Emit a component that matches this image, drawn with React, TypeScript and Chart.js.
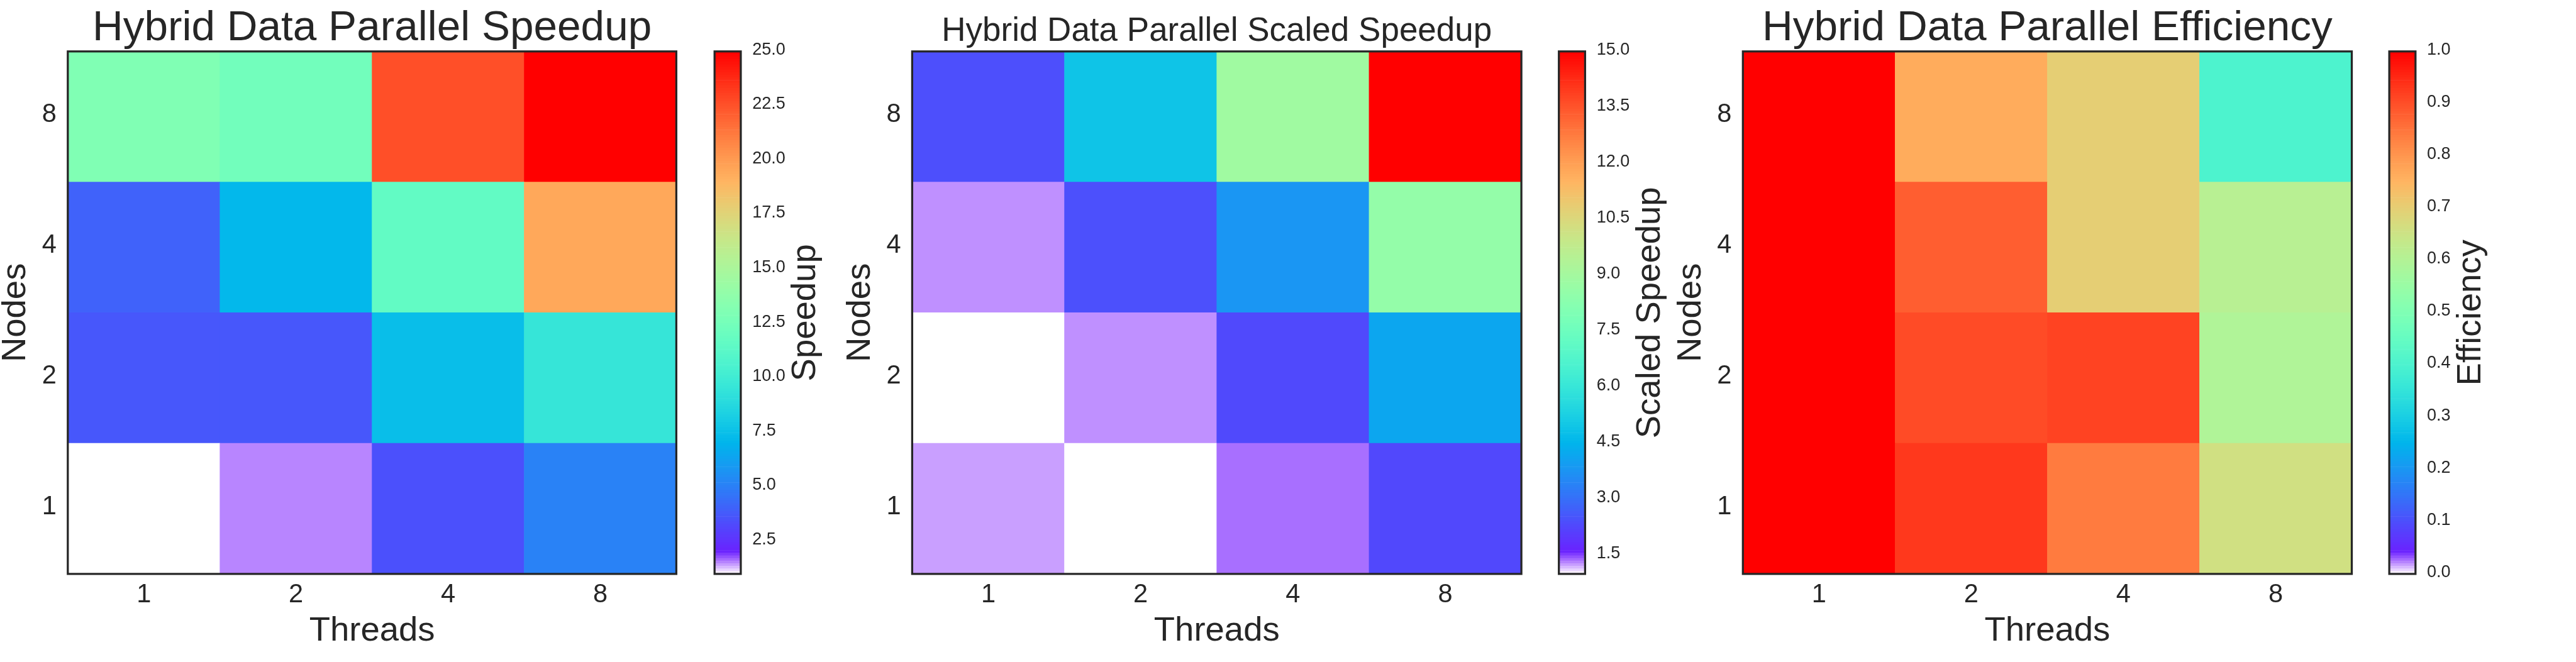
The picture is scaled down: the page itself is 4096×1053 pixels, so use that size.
import React, { useEffect, useRef } from 'react';
import { Chart, registerables } from 'chart.js';

Chart.register(...registerables);

// ---------------- data ----------------
const threadLabels = ['1', '2', '4', '8'];
const nodeLabels = ['1', '2', '4', '8']; // bottom row to top row

// Speedup: rows = nodes 1,2,4,8 ; columns = threads 1,2,4,8
const speedupNodes1 = [1.0, 1.53, 3.45, 5.08];
const speedupNodes2 = [3.66, 3.66, 7.4, 9.54];
const speedupNodes4 = [4.0, 7.14, 11.6, 19.5];
const speedupNodes8 = [13.0, 12.36, 22.6, 25.0];

// Scaled speedup
const scaledNodes1 = [1.24, 1.0, 1.37, 2.28];
const scaledNodes2 = [1.0, 1.28, 2.3, 4.16];
const scaledNodes4 = [1.28, 2.42, 3.8, 8.56];
const scaledNodes8 = [2.4, 4.92, 8.9, 15.0];

// Efficiency
const effNodes1 = [1.0, 0.93, 0.84, 0.658];
const effNodes2 = [1.0, 0.905, 0.915, 0.595];
const effNodes4 = [1.0, 0.88, 0.7, 0.61];
const effNodes8 = [1.0, 0.765, 0.7, 0.4];

const speedupTicks = [2.5, 5.0, 7.5, 10.0, 12.5, 15.0, 17.5, 20.0, 22.5, 25.0];
const scaledTicks = [1.5, 3.0, 4.5, 6.0, 7.5, 9.0, 10.5, 12.0, 13.5, 15.0];
const effTicks = [0.0, 0.1, 0.2, 0.3, 0.4, 0.5, 0.6, 0.7, 0.8, 0.9, 1.0];

// ---------------- style / layout ----------------
const FONT = "'Liberation Sans', Arial, Helvetica, sans-serif";
const TEXT = '#262626';
const WIN_W = 4096;
const WIN_H = 1053;
const AX_TOP = 81.8;
const AX_BOTTOM = 912.9;
const TITLE_BASELINE = 68.3;
const FRAME_W = 3.25;
const TICK_SIZE = 41.6;
const LABEL_SIZE = 54.5;
const CB_TICK_SIZE = 27;
const YAXIS_W = 105;

// rainbow colormap with a transparent ramp at the bottom (composited on white)
const ALPHA_RAMP = 0.043;
function cmap(v: number, vmin: number, vmax: number): string {
  let t = (v - vmin) / (vmax - vmin);
  t = Math.max(0, Math.min(1, t));
  const r = Math.min(1, Math.abs(2 * t - 0.5));
  const g = Math.max(0, Math.sin(Math.PI * t));
  const b = Math.max(0, Math.cos((Math.PI * t) / 2));
  const a = Math.min(1, t / ALPHA_RAMP);
  const mix = (c: number) => Math.round(255 - a * (255 - c * 255));
  return `rgb(${mix(r)},${mix(g)},${mix(b)})`;
}

const framePlugin = {
  id: 'frame',
  afterDatasetsDraw(chart: any) {
    const { ctx, chartArea } = chart;
    ctx.save();
    ctx.strokeStyle = TEXT;
    ctx.lineWidth = FRAME_W;
    ctx.strokeRect(chartArea.left, chartArea.top, chartArea.right - chartArea.left, chartArea.bottom - chartArea.top);
    ctx.restore();
  },
};

interface PanelDef {
  title: string;
  titleSize: number;
  rows: number[][];
  vmin: number;
  vmax: number;
  ticks: number[];
  cbLabel: string;
  axL: number;
  axR: number;
  cbL: number;
  cbR: number;
}

const panels: PanelDef[] = [
  {
    title: 'Hybrid Data Parallel Speedup', titleSize: 67.5,
    rows: [speedupNodes1, speedupNodes2, speedupNodes4, speedupNodes8],
    vmin: 1, vmax: 25, ticks: speedupTicks, cbLabel: 'Speedup',
    axL: 107.8, axR: 1075.4, cbL: 1136.2, cbR: 1177.9,
  },
  {
    title: 'Hybrid Data Parallel Scaled Speedup', titleSize: 53,
    rows: [scaledNodes1, scaledNodes2, scaledNodes4, scaledNodes8],
    vmin: 1, vmax: 15, ticks: scaledTicks, cbLabel: 'Scaled Speedup',
    axL: 1450.4, axR: 2419.1, cbL: 2478.7, cbR: 2520.4,
  },
  {
    title: 'Hybrid Data Parallel Efficiency', titleSize: 67.5,
    rows: [effNodes1, effNodes2, effNodes4, effNodes8],
    vmin: 0, vmax: 1, ticks: effTicks, cbLabel: 'Efficiency',
    axL: 2771.3, axR: 3739.5, cbL: 3799.1, cbR: 3840.8,
  },
];

function ChartCanvas({ left, width, makeConfig }: { left: number; width: number; makeConfig: () => any }) {
  const ref = useRef<HTMLCanvasElement | null>(null);
  useEffect(() => {
    if (!ref.current) return;
    const chart = new Chart(ref.current, makeConfig());
    return () => chart.destroy();
  }, []);
  return (
    <canvas
      ref={ref}
      width={width}
      height={WIN_H}
      style={{ position: 'absolute', left: left + 'px', top: '0px', width: width + 'px', height: WIN_H + 'px' }}
    />
  );
}

function heatmapConfig(p: PanelDef, canvasLeft: number, canvasWidth: number) {
  const padL = p.axL - YAXIS_W - canvasLeft;
  const padR = canvasLeft + canvasWidth - p.axR;
  const F = p.titleSize;
  const tPadTop = TITLE_BASELINE - 0.3465 * F - F / 2;
  const tPadBottom = AX_TOP - tPadTop - F;
  return {
    type: 'bar',
    data: {
      labels: threadLabels,
      datasets: p.rows.map((row, ri) => ({
        label: 'Nodes ' + nodeLabels[ri],
        data: row.map(() => 1),
        backgroundColor: row.map((v) => cmap(v, p.vmin, p.vmax)),
        borderWidth: 0,
        barPercentage: 1,
        categoryPercentage: 1,
      })),
    },
    options: {
      responsive: false,
      animation: false,
      devicePixelRatio: 1,
      events: [],
      layout: { padding: { left: padL, right: padR, top: 0, bottom: 0 } },
      plugins: {
        legend: { display: false },
        tooltip: { enabled: false },
        title: {
          display: true,
          text: p.title,
          fullSize: false,
          color: TEXT,
          font: { family: FONT, size: F, weight: 'normal', lineHeight: 1 },
          padding: { top: tPadTop, bottom: tPadBottom },
        },
      },
      scales: {
        x: {
          type: 'category',
          stacked: true,
          offset: true,
          grid: { display: false, drawTicks: false },
          border: { display: false },
          ticks: {
            color: TEXT,
            font: { family: FONT, size: TICK_SIZE, lineHeight: 1 },
            padding: 13,
            maxRotation: 0,
            autoSkip: false,
          },
          title: {
            display: true,
            text: 'Threads',
            color: TEXT,
            font: { family: FONT, size: LABEL_SIZE, lineHeight: 1 },
            padding: { top: 0, bottom: 21.75 },
          },
          afterFit: (s: any) => {
            s.height = WIN_H - AX_BOTTOM;
          },
        },
        y: {
          type: 'linear',
          stacked: true,
          min: 0,
          max: nodeLabels.length,
          grid: { display: false, drawTicks: false },
          border: { display: false },
          afterBuildTicks: (s: any) => {
            s.ticks = nodeLabels.map((_, i) => ({ value: i + 0.5 }));
          },
          ticks: {
            color: TEXT,
            font: { family: FONT, size: TICK_SIZE, lineHeight: 1 },
            padding: 17.8,
            labelOffset: -2.7,
            autoSkip: false,
            callback: (_v: any, i: number) => nodeLabels[i],
          },
          title: {
            display: true,
            text: 'Nodes',
            color: TEXT,
            font: { family: FONT, size: LABEL_SIZE, lineHeight: 0.8 },
            padding: { top: 0.6, bottom: 0 },
          },
          afterFit: (s: any) => {
            s.width = YAXIS_W;
          },
        },
      },
    },
    plugins: [framePlugin],
  };
}

function colorbarConfig(p: PanelDef, canvasLeft: number, canvasWidth: number) {
  const padL = p.cbL - canvasLeft;
  const nSeg = 200;
  const step = (p.vmax - p.vmin) / nSeg;
  const datasets = [];
  for (let i = 0; i < nSeg; i++) {
    const lo = p.vmin + i * step;
    const hi = lo + step;
    datasets.push({
      data: [[lo, hi]],
      backgroundColor: cmap((lo + hi) / 2, p.vmin, p.vmax),
      borderWidth: 0,
      barPercentage: 1,
      categoryPercentage: 1,
      grouped: false,
    });
  }
  const labelPlugin = {
    id: 'cbLabel',
    afterDraw(chart: any) {
      const { ctx, chartArea } = chart;
      ctx.save();
      ctx.font = `${CB_TICK_SIZE}px ${FONT}`;
      let maxW = 0;
      p.ticks.forEach((t) => {
        maxW = Math.max(maxW, ctx.measureText(t.toFixed(1)).width);
      });
      const bx = chartArea.right + 18.3 + maxW + 8.3 + 0.716 * LABEL_SIZE;
      const cy = (chartArea.top + chartArea.bottom) / 2;
      ctx.translate(bx, cy);
      ctx.rotate(-Math.PI / 2);
      ctx.font = `${LABEL_SIZE}px ${FONT}`;
      ctx.fillStyle = TEXT;
      ctx.textAlign = 'center';
      ctx.textBaseline = 'alphabetic';
      ctx.fillText(p.cbLabel, 0, 0);
      ctx.restore();
    },
  };
  return {
    type: 'bar',
    data: { labels: [''], datasets },
    options: {
      responsive: false,
      animation: false,
      devicePixelRatio: 1,
      events: [],
      layout: { padding: { left: padL, right: 0, top: AX_TOP, bottom: WIN_H - AX_BOTTOM } },
      plugins: { legend: { display: false }, tooltip: { enabled: false }, title: { display: false } },
      scales: {
        x: { type: 'category', display: false, offset: true },
        y: {
          position: 'right',
          min: p.vmin,
          max: p.vmax,
          grid: { display: false, drawTicks: false },
          border: { display: false },
          afterBuildTicks: (s: any) => {
            s.ticks = p.ticks.map((v) => ({ value: v }));
          },
          ticks: {
            color: TEXT,
            font: { family: FONT, size: CB_TICK_SIZE, lineHeight: 1 },
            padding: 18.3,
            labelOffset: -2.5,
            autoSkip: false,
            callback: (v: any) => Number(v).toFixed(1),
          },
          afterFit: (s: any) => {
            s.width = canvasWidth - padL - (p.cbR - p.cbL);
          },
        },
      },
    },
    plugins: [framePlugin, labelPlugin],
  };
}

export default function App() {
  return (
    <div
      style={{
        position: 'fixed',
        left: 0,
        top: 0,
        width: WIN_W + 'px',
        height: WIN_H + 'px',
        background: '#ffffff',
        overflow: 'hidden',
      }}
    >
      {panels.map((p, i) => {
        const hLeft = Math.floor(p.axL - YAXIS_W);
        const hWidth = Math.ceil(p.axR + 12) - hLeft;
        const cLeft = Math.floor(p.cbL) - 4;
        const cWidth = 190;
        return (
          <React.Fragment key={i}>
            <ChartCanvas left={hLeft} width={hWidth} makeConfig={() => heatmapConfig(p, hLeft, hWidth)} />
            <ChartCanvas left={cLeft} width={cWidth} makeConfig={() => colorbarConfig(p, cLeft, cWidth)} />
          </React.Fragment>
        );
      })}
    </div>
  );
}
